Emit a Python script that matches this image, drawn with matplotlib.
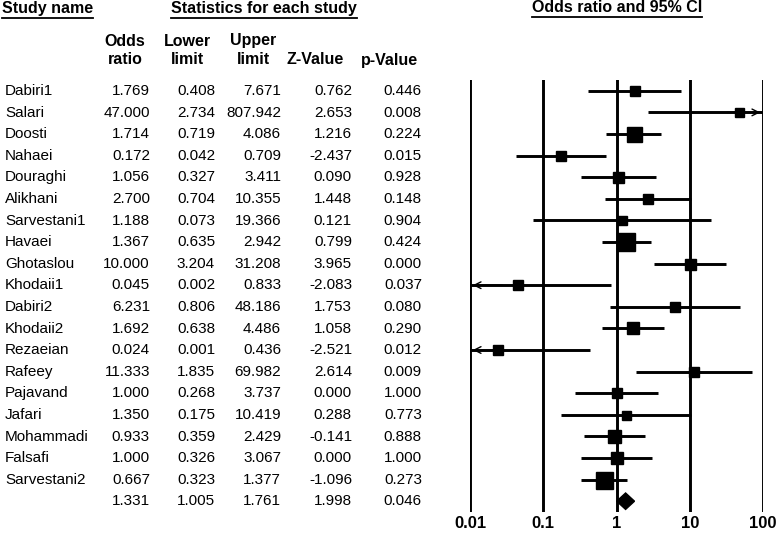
import matplotlib.pyplot as plt
from matplotlib.lines import Line2D
from matplotlib.patches import Polygon

plt.rcParams['font.family'] = ['Liberation Sans', 'DejaVu Sans']

# data
studies = ['Dabiri1', 'Salari', 'Doosti', 'Nahaei', 'Douraghi', 'Alikhani', 'Sarvestani1',
           'Havaei', 'Ghotaslou', 'Khodaii1', 'Dabiri2', 'Khodaii2', 'Rezaeian', 'Rafeey',
           'Pajavand', 'Jafari', 'Mohammadi', 'Falsafi', 'Sarvestani2']
odds = [1.769, 47.000, 1.714, 0.172, 1.056, 2.700, 1.188, 1.367, 10.000, 0.045, 6.231,
        1.692, 0.024, 11.333, 1.000, 1.350, 0.933, 1.000, 0.667]
lower = [0.408, 2.734, 0.719, 0.042, 0.327, 0.704, 0.073, 0.635, 3.204, 0.002, 0.806,
         0.638, 0.001, 1.835, 0.268, 0.175, 0.359, 0.326, 0.323]
upper = [7.671, 807.942, 4.086, 0.709, 3.411, 10.355, 19.366, 2.942, 31.208, 0.833, 48.186,
         4.486, 0.436, 69.982, 3.737, 10.419, 2.429, 3.067, 1.377]
zval = [0.762, 2.653, 1.216, -2.437, 0.090, 1.448, 0.121, 0.799, 3.965, -2.083, 1.753,
        1.058, -2.521, 2.614, 0.000, 0.288, -0.141, 0.000, -1.096]
pval = [0.446, 0.008, 0.224, 0.015, 0.928, 0.148, 0.904, 0.424, 0.000, 0.037, 0.080,
        0.290, 0.012, 0.009, 1.000, 0.773, 0.888, 1.000, 0.273]
# square size in pixels (study weight)
box_px = [10, 9, 15, 10, 11, 10, 9, 18, 11, 10, 10, 12, 10, 10, 10, 9, 13, 12, 17]
summary = [1.331, 1.005, 1.761, 1.998, 0.046]
ticks = [0.01, 0.1, 1, 10, 100]
tick_labels = ['0.01', '0.1', '1', '10', '100']

W, H = 778, 534
fig = plt.figure(figsize=(W / 100, H / 100), dpi=100)

# forest plot axes
top_px, bot_px = 80, 512
ax = fig.add_axes([470 / W, 1 - bot_px / H, 293 / W, (bot_px - top_px) / H])
ax.set_xscale('log')
ax.set_xlim(0.01, 100)
n = len(studies) + 1
ax.set_ylim(n - 0.5, -0.5)
for s in ax.spines.values():
    s.set_visible(False)
for t in ticks:
    ax.axvline(t, color='black', lw=2.1)
ax.set_yticks([])
ax.set_xticks(ticks)
ax.set_xticklabels(tick_labels, fontweight='bold', fontsize=12)
ax.tick_params(axis='x', length=0, pad=3)
ax.minorticks_off()

for i in range(len(studies)):
    lo = max(lower[i], 0.01)
    hi = min(upper[i], 100)
    ax.plot([lo, hi], [i, i], color='black', lw=2.1, solid_capstyle='butt')
    if upper[i] > 100:
        ax.annotate('', xy=(100, i), xytext=(30, i),
                    arrowprops=dict(arrowstyle='->', lw=1.0, color='black', mutation_scale=12))
    if lower[i] < 0.01:
        ax.annotate('', xy=(0.01, i), xytext=(0.03, i),
                    arrowprops=dict(arrowstyle='->', lw=1.0, color='black', mutation_scale=12))
    ax.plot(odds[i], i, marker='s', color='black', markersize=box_px[i] * 0.72, ls='none')

# summary diamond
ys = n - 1
ax.add_patch(Polygon([(summary[1], ys), (summary[0], ys - 0.38), (summary[2], ys),
                      (summary[0], ys + 0.38)], closed=True, color='black'))

# table text
def fy(p):
    return 1 - p / H

row_y = [91 + 21.6 * i for i in range(n)]
fs = 11
hfs = 11.5
cols_x = [150, 215, 281, 352, 422]
for i in range(len(studies)):
    fig.text(5 / W, fy(row_y[i]), studies[i], fontsize=fs, va='center', ha='left')
    vals = [odds[i], lower[i], upper[i], zval[i], pval[i]]
    for x, v in zip(cols_x, vals):
        fig.text(x / W, fy(row_y[i]), '%.3f' % v, fontsize=fs, va='center', ha='right')
for x, v in zip(cols_x, summary):
    fig.text(x / W, fy(row_y[-1]), '%.3f' % v, fontsize=fs, va='center', ha='right')

col_heads = [('Odds', 'ratio', 125), ('Lower', 'limit', 187), ('Upper', 'limit', 253),
             ('', 'Z-Value', 315), ('', 'p-Value', 390)]
for a, b, x in col_heads:
    if a:
        fig.text(x / W, fy(41), a, fontsize=hfs, fontweight='bold', ha='center', va='center')
    fig.text(x / W, fy(60), b, fontsize=hfs, fontweight='bold', ha='center', va='center')

titles = [fig.text(2 / W, fy(9), 'Study name', fontsize=hfs, fontweight='bold', ha='left', va='center'),
          fig.text(264 / W, fy(9), 'Statistics for each study', fontsize=hfs, fontweight='bold',
                   ha='center', va='center'),
          fig.text(617 / W, fy(8), 'Odds ratio and 95% CI', fontsize=hfs, fontweight='bold',
                   ha='center', va='center')]

# underline the titles
fig.canvas.draw()
r = fig.canvas.get_renderer()
for t in titles:
    bb = t.get_window_extent(r)
    yl = bb.y0 - 1
    fig.add_artist(Line2D([bb.x0 / W, bb.x1 / W], [yl / H, yl / H], color='black', lw=1.3))

fig.savefig('out.png', dpi=100)
